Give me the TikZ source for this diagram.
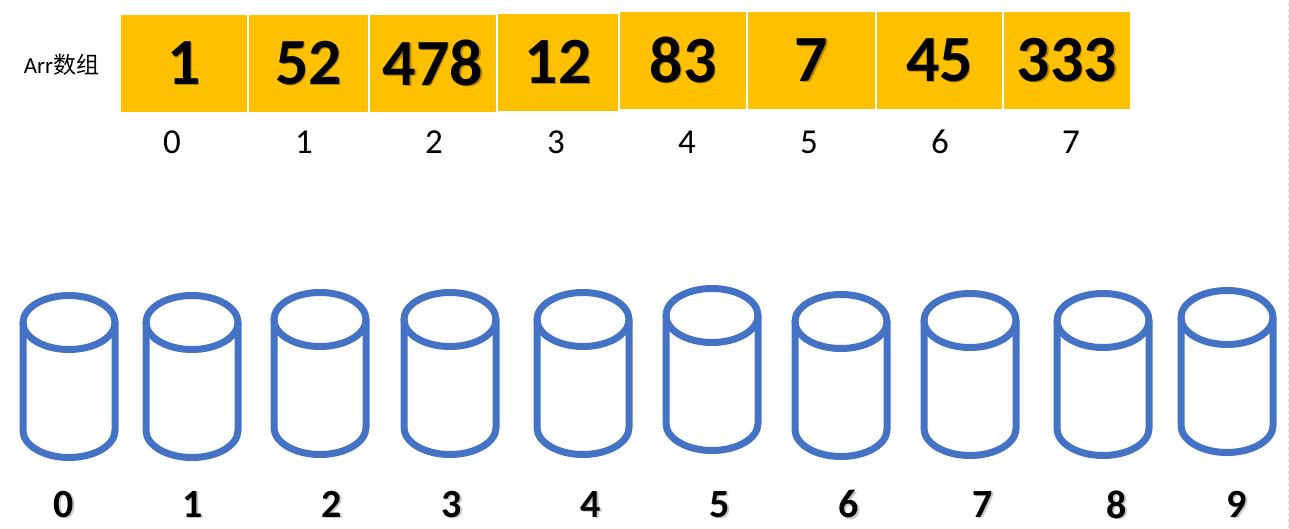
\documentclass[tikz,border=0pt]{standalone}
\usepackage{fontspec}
\setmainfont{Carlito}
\newfontfamily\cjk{Noto Sans CJK SC}
\definecolor{arany}{HTML}{FFC000}
\definecolor{vodor}{HTML}{4472C4}
\newcommand{\arnyek}[2][black!22]{\rlap{\kern1.3pt\raisebox{-1.3pt}{\textcolor{#1}{#2}}}#2}

\begin{document}
\begin{tikzpicture}[x=1pt, y=1pt,
        cella/.style={fill=arany, inner sep=0pt, font=\fontsize{66}{66}\selectfont\bfseries},
        index/.style={inner sep=0pt, font=\fontsize{35}{35}\selectfont},
        szam/.style={inner sep=0pt, font=\fontsize{40}{40}\selectfont\bfseries},
        henger/.style={draw=vodor, line width=7pt}]
        \useasboundingbox (0,0) rectangle (1289,528);
        \pgfmathsetmacro{\sugarX}{46}
        \pgfmathsetmacro{\sugarY}{27}
        \pgfmathsetmacro{\oldal}{108}

        \node[inner sep=0pt, font=\fontsize{23}{23}\selectfont] (nev) at (61.5,463) {Arr{\cjk 数组}};

        \foreach \i/\xl/\xr/\yt/\yb/\v in {0/121/247/15/112/1, 1/249/368/15/112/52, 2/370/496/15/112/478,
                3/498/618/14/111/12, 4/620/746/12/109/83, 5/748/875/12/109/7,
                6/877/1002/12/109/45, 7/1004/1130/12/109/333} {
                \node[cella, minimum width={\xr-\xl}, minimum height={\yb-\yt}] (a\i)
                at ({(\xl+\xr)/2}, {528-(\yt+\yb)/2}) {\arnyek[arany!72!black]{\v}};
            }
        \foreach \i/\x in {0/172, 1/304, 2/434, 3/556, 4/687, 5/809, 6/940, 7/1071}
        \node[index] (i\i) at (\x,386) {\i};

        \foreach \i/\cx/\ty in {0/69/292, 1/192/292, 2/320/289, 3/450/289, 4/583/289,
                5/712/285, 6/841/291, 7/970/290, 8/1103/290, 9/1227/287} {
                \pgfmathsetmacro{\kozep}{528-\ty-3.5-\sugarY}
                \draw[henger] (\cx,\kozep) ellipse [x radius=\sugarX, y radius=\sugarY];
                \draw[henger] (\cx-\sugarX,\kozep) -- ++(0,-\oldal)
                arc [start angle=180, end angle=360, x radius=\sugarX, y radius=\sugarY] -- ++(0,\oldal);
            }
        \foreach \i/\x in {0/64, 1/193, 2/332, 3/452, 4/591, 5/720, 6/849, 7/983, 8/1117, 9/1237}
        \node[szam] (b\i) at (\x,23) {\arnyek{\i}};

        \draw[black!12, dashed, line width=1pt] (1288,0) -- (1288,528);
    \end{tikzpicture}
\end{document}
